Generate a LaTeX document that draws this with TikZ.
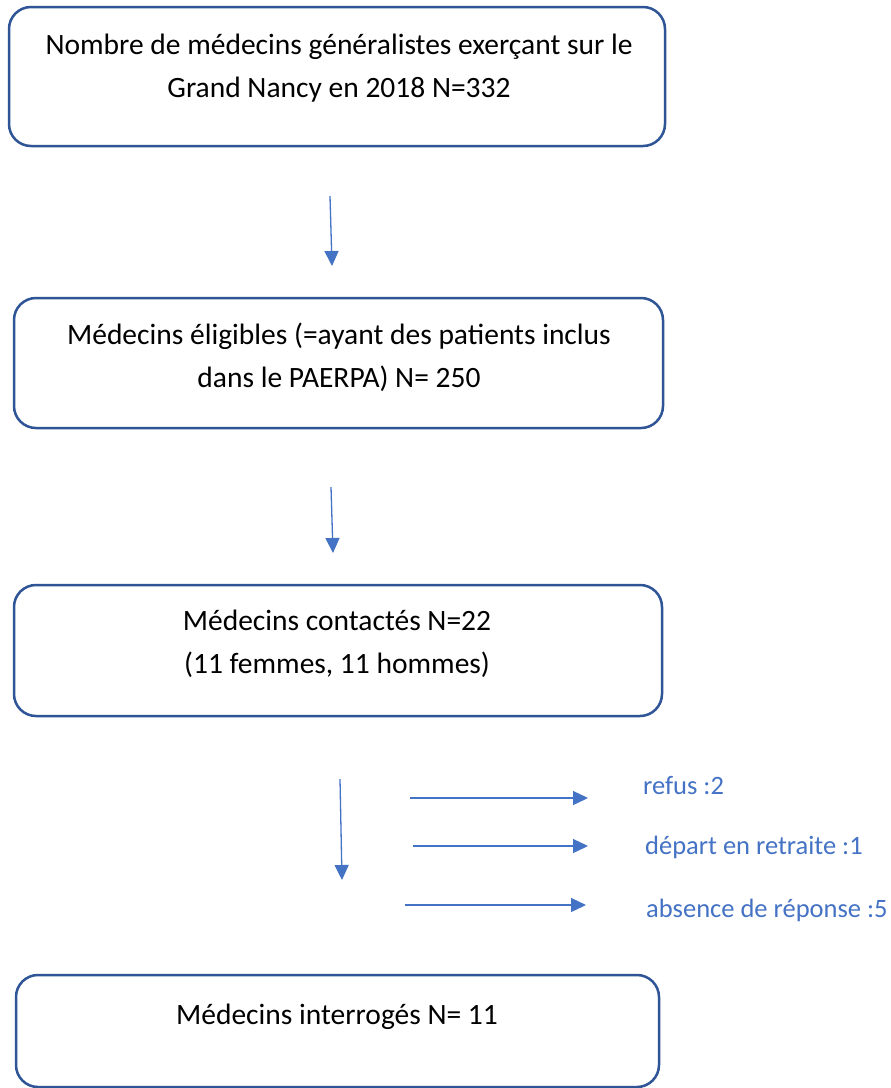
\documentclass[tikz,border=0pt]{standalone}
\usepackage{fontspec}
\setmainfont{Carlito}
\usetikzlibrary{arrows.meta}
\definecolor{boxblue}{HTML}{2F5597}
\definecolor{accent}{HTML}{4472C4}
\tikzset{
  flowbox/.style={draw=boxblue, line width=2.5pt, rounded corners=22pt, fill=white},
  boxtext/.style={align=center, font=\fontsize{29.5}{43}\selectfont, inner sep=0pt},
  flowarrow/.style={draw=accent, line width=1.3pt, -{Triangle[length=15pt,width=14pt]}},
  sidetext/.style={anchor=west, text=accent, font=\fontsize{26.5}{31}\selectfont, inner sep=0pt}
}
\begin{document}
\begin{tikzpicture}[x=1pt, y=-1pt]
\useasboundingbox[fill=white] (0,0) rectangle (891,1088);
% boxes
\draw[flowbox] (9,7) rectangle (665,146);
\node[boxtext] (t1) at (339,68) {Nombre de médecins généralistes exerçant sur le\\Grand Nancy en 2018 N=332};
\draw[flowbox] (14,298) rectangle (663,428);
\node[boxtext] (t2) at (339,357) {Médecins éligibles (=ayant des patients inclus\\dans le PAERPA) N= 250};
\draw[flowbox] (14,585) rectangle (662,716);
\node[boxtext] (t3) at (337,644) {Médecins contactés N=22\\(11 femmes, 11 hommes)};
\draw[flowbox] (16,975) rectangle (659,1087);
\node[boxtext] (t4) at (337,1017) {Médecins interrogés N= 11};
% vertical arrows
\coordinate (a1s) at (330,196); \coordinate (a1e) at (332,266);
\coordinate (a2s) at (331,487); \coordinate (a2e) at (333,553);
\coordinate (a3s) at (340,779); \coordinate (a3e) at (342,880);
\draw[flowarrow] (a1s) -- (a1e);
\draw[flowarrow] (a2s) -- (a2e);
\draw[flowarrow] (a3s) -- (a3e);
% side arrows and labels
\node[sidetext] (r1) at (643,786) {refus :2};
\node[sidetext] (r2) at (645,847) {départ en retraite :1};
\node[sidetext] (r3) at (646,910) {absence de réponse :5};
\coordinate (h1s) at (410,798); \coordinate (h1e) at (588,798);
\coordinate (h2s) at (413,846); \coordinate (h2e) at (588,846);
\coordinate (h3s) at (405,905); \coordinate (h3e) at (586,905);
\draw[flowarrow] (h1s) -- (h1e);
\draw[flowarrow] (h2s) -- (h2e);
\draw[flowarrow] (h3s) -- (h3e);
\end{tikzpicture}
\end{document}
